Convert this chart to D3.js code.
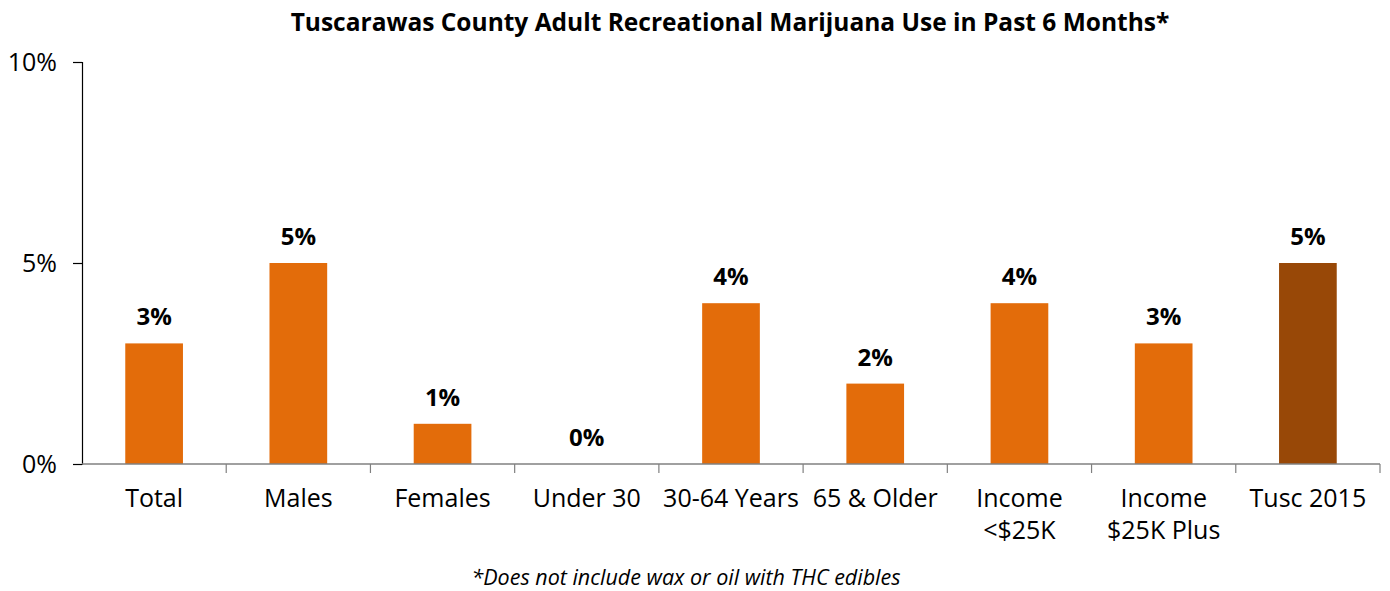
<!DOCTYPE html>
<html>
<head>
<meta charset="utf-8">
<script src="https://cdn.jsdelivr.net/npm/d3@7"></script>
<style>
  html, body { margin: 0; padding: 0; background: #fff; }
  svg { display: block; font-family: "Open Sans", "Noto Sans", sans-serif; }
</style>
</head>
<body>
<svg id="chart" width="1390" height="591"></svg>
<script>
// Categories (multi-line labels split on "|") and percentage values
const categories = ["Total", "Males", "Females", "Under 30", "30-64 Years", "65 & Older", "Income|<$25K", "Income|$25K Plus", "Tusc 2015"];
const values = [3, 5, 1, 0, 4, 2, 4, 3, 5];
const barColors = ["#E36C0A", "#E36C0A", "#E36C0A", "#E36C0A", "#E36C0A", "#E36C0A", "#E36C0A", "#E36C0A", "#984807"];
const yTicks = [0, 5, 10];

const svg = d3.select("#chart");
const margin = { top: 62, right: 10, bottom: 127, left: 82 };
const width = 1390 - margin.left - margin.right;
const height = 591 - margin.top - margin.bottom;

const g = svg.append("g").attr("transform", `translate(${margin.left},${margin.top})`);

const x = d3.scaleBand().domain(categories).range([0, width]).paddingInner(0.6).paddingOuter(0.3);
const y = d3.scaleLinear().domain([0, 10]).range([height, 0]);

// Title
svg.append("text")
  .attr("x", 730).attr("y", 31)
  .attr("text-anchor", "middle")
  .attr("font-weight", "bold")
  .attr("font-size", 24.5)
  .attr("fill", "#000")
  .text("Tuscarawas County Adult Recreational Marijuana Use in Past 6 Months*");

// Bars
g.selectAll("rect.bar")
  .data(categories)
  .join("rect")
  .attr("class", "bar")
  .attr("x", d => x(d))
  .attr("width", x.bandwidth())
  .attr("y", (d, i) => y(values[i]))
  .attr("height", (d, i) => height - y(values[i]))
  .attr("fill", (d, i) => barColors[i]);

// Value labels
g.selectAll("text.val")
  .data(categories)
  .join("text")
  .attr("class", "val")
  .attr("x", d => x(d) + x.bandwidth() / 2)
  .attr("y", (d, i) => y(values[i]) - 18)
  .attr("text-anchor", "middle")
  .attr("font-weight", "bold")
  .attr("font-size", 24)
  .attr("fill", "#000")
  .text((d, i) => values[i] + "%");

// Y axis
const yAxis = g.append("g")
  .call(d3.axisLeft(y).tickValues(yTicks).tickFormat(d => d + "%").tickSize(9).tickPadding(16));
yAxis.select(".domain").attr("stroke", "#000").attr("stroke-width", 1.2);
yAxis.selectAll(".tick line").attr("stroke", "#000").attr("stroke-width", 1.2);
yAxis.selectAll(".tick text").attr("font-size", 25).attr("fill", "#000").attr("font-family", "Open Sans, sans-serif");

// X axis: baseline with ticks at category boundaries
const xAxis = g.append("g").attr("transform", `translate(0,${height})`);
xAxis.append("line")
  .attr("x1", 0).attr("x2", width)
  .attr("stroke", "#808080").attr("stroke-width", 1.5);
const boundaries = categories.map(d => x(d) - x.step() * x.paddingInner() / 2 + x.step()).slice(0, -1);
boundaries.push(width);
xAxis.selectAll("line.tick")
  .data(boundaries)
  .join("line")
  .attr("class", "tick")
  .attr("x1", d => d).attr("x2", d => d)
  .attr("y1", 0).attr("y2", 9)
  .attr("stroke", "#808080").attr("stroke-width", 1.2);

// Category labels
const labels = xAxis.selectAll("text.cat")
  .data(categories)
  .join("text")
  .attr("class", "cat")
  .attr("x", d => x(d) + x.bandwidth() / 2)
  .attr("y", 43)
  .attr("text-anchor", "middle")
  .attr("font-size", 25)
  .attr("fill", "#000");
labels.each(function (d) {
  const parts = d.split("|");
  d3.select(this).selectAll("tspan")
    .data(parts)
    .join("tspan")
    .attr("x", x(d) + x.bandwidth() / 2)
    .attr("dy", (p, i) => i === 0 ? 0 : 32)
    .text(p => p);
});

// Footnote
svg.append("text")
  .attr("x", 686).attr("y", 585)
  .attr("text-anchor", "middle")
  .attr("font-style", "italic")
  .attr("font-size", 21.5)
  .attr("fill", "#000")
  .text("*Does not include wax or oil with THC edibles");
</script>
</body>
</html>
